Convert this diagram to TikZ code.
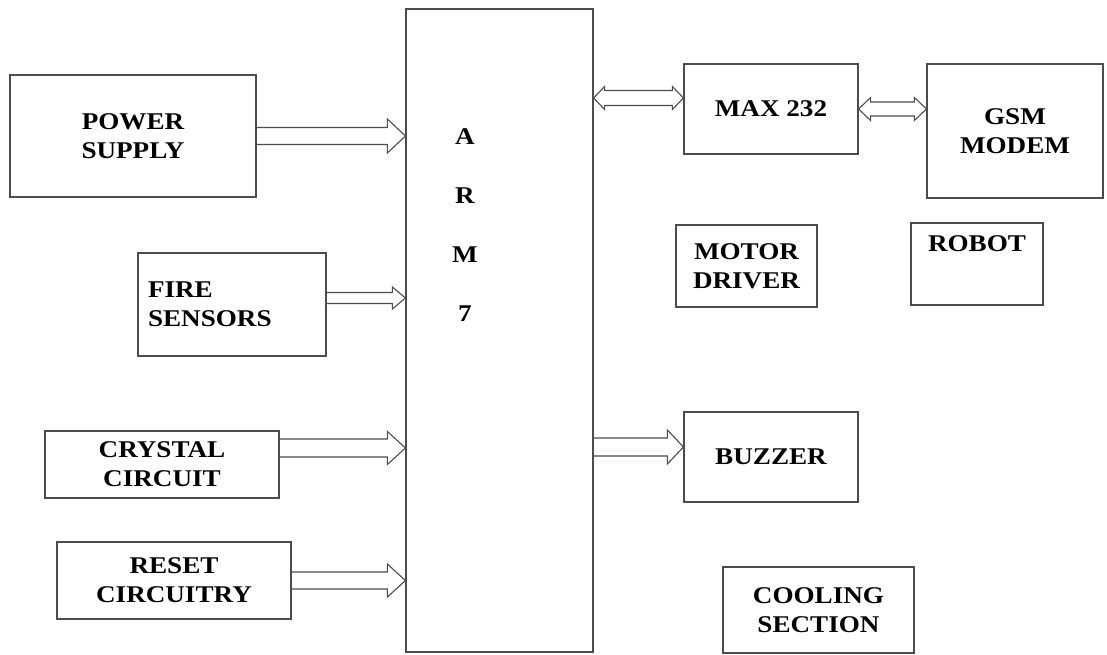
\documentclass[tikz,border=0pt]{standalone}
\usepackage{fontspec}
\newfontfamily\blkfont[FakeStretch=1.13]{Liberation Serif}
\usetikzlibrary{calc, positioning}

\begin{document}
\begin{tikzpicture}[x=1pt, y=-1pt,
  blk/.style={draw=black!70, line width=1.2pt, inner sep=0pt, align=center,
    font=\blkfont\bfseries\fontsize{24}{29}\selectfont},
  bus/.style args={#1/#2/#3}{draw=black!70, line width=1.1pt, to path={
    let \p1=(\tikztostart), \p2=(\tikztotarget) in
    (\x1,\y1+#1) -- (\x2-#3,\y1+#1) -- (\x2-#3,\y1+#2) -- (\x2,\y1)
    -- (\x2-#3,\y1-#2) -- (\x2-#3,\y1-#1) -- (\x1,\y1-#1)}},
  dbus/.style args={#1/#2/#3}{draw=black!70, line width=1.1pt, to path={
    let \p1=(\tikztostart), \p2=(\tikztotarget) in
    (\x1,\y1) -- (\x1+#3,\y1+#2) -- (\x1+#3,\y1+#1) -- (\x2-#3,\y1+#1)
    -- (\x2-#3,\y1+#2) -- (\x2,\y1) -- (\x2-#3,\y1-#2) -- (\x2-#3,\y1-#1)
    -- (\x1+#3,\y1-#1) -- (\x1+#3,\y1-#2) -- cycle}}]
  \useasboundingbox (0,0) rectangle (1107,655);

  % controller
  \node[blk, minimum width=187pt, minimum height=643pt] (arm) at (499.5,330.5) {};
  \node[font=\blkfont\bfseries\fontsize{24}{29}\selectfont, align=center, inner sep=0pt] (armtxt) at (465,225) {A\\[30pt]R\\[30pt]M\\[30pt]7};

  % inputs
  \node[blk, minimum width=246pt, minimum height=122pt] (power) at (133,136) {POWER\\SUPPLY};
  \node[blk, minimum width=188pt, minimum height=103pt, text width=168pt, align=left] (fire) at (232,304.5) {FIRE\\SENSORS};
  \node[blk, minimum width=234pt, minimum height=67pt] (crystal) at (162,464.5) {CRYSTAL\\CIRCUIT};
  \node[blk, minimum width=234pt, minimum height=77pt] (reset) at (174,580.5) {RESET\\CIRCUITRY};

  % outputs
  \node[blk, minimum width=174pt, minimum height=90pt] (max) at (771,109) {MAX 232};
  \node[blk, minimum width=176pt, minimum height=134pt] (gsm) at (1015,131) {GSM\\MODEM};
  \node[blk, minimum width=141pt, minimum height=82pt] (motor) at (746.5,266) {MOTOR\\DRIVER};
  \node[blk, minimum width=132pt, minimum height=82pt] (robot) at (977,264) {ROBOT\\[12pt]\mbox{}};
  \node[blk, minimum width=174pt, minimum height=90pt] (buzzer) at (771,457) {BUZZER};
  \node[blk, minimum width=191pt, minimum height=86pt] (cooling) at (818.5,610) {COOLING\\SECTION};

  % bus arrows
  \draw[bus=8.5/17/18] (power.east) to (power.east -| arm.west);
  \draw[bus=5.5/11/13] ([yshift=6.5pt]fire.east) to ([yshift=6.5pt]fire.east -| arm.west);
  \draw[bus=9/16.5/18] ([yshift=16.5pt]crystal.east) to ([yshift=16.5pt]crystal.east -| arm.west);
  \draw[bus=8.5/16.5/18] (reset.east) to (reset.east -| arm.west);
  \draw[bus=9/17/16] ([yshift=10pt]buzzer.west -| arm.east) to ([yshift=10pt]buzzer.west);
  \draw[dbus=7.5/11.5/11] ([yshift=11pt]max.west -| arm.east) to ([yshift=11pt]max.west);
  \draw[dbus=7/11.5/12] (max.east) to (max.east -| gsm.west);
\end{tikzpicture}
\end{document}
